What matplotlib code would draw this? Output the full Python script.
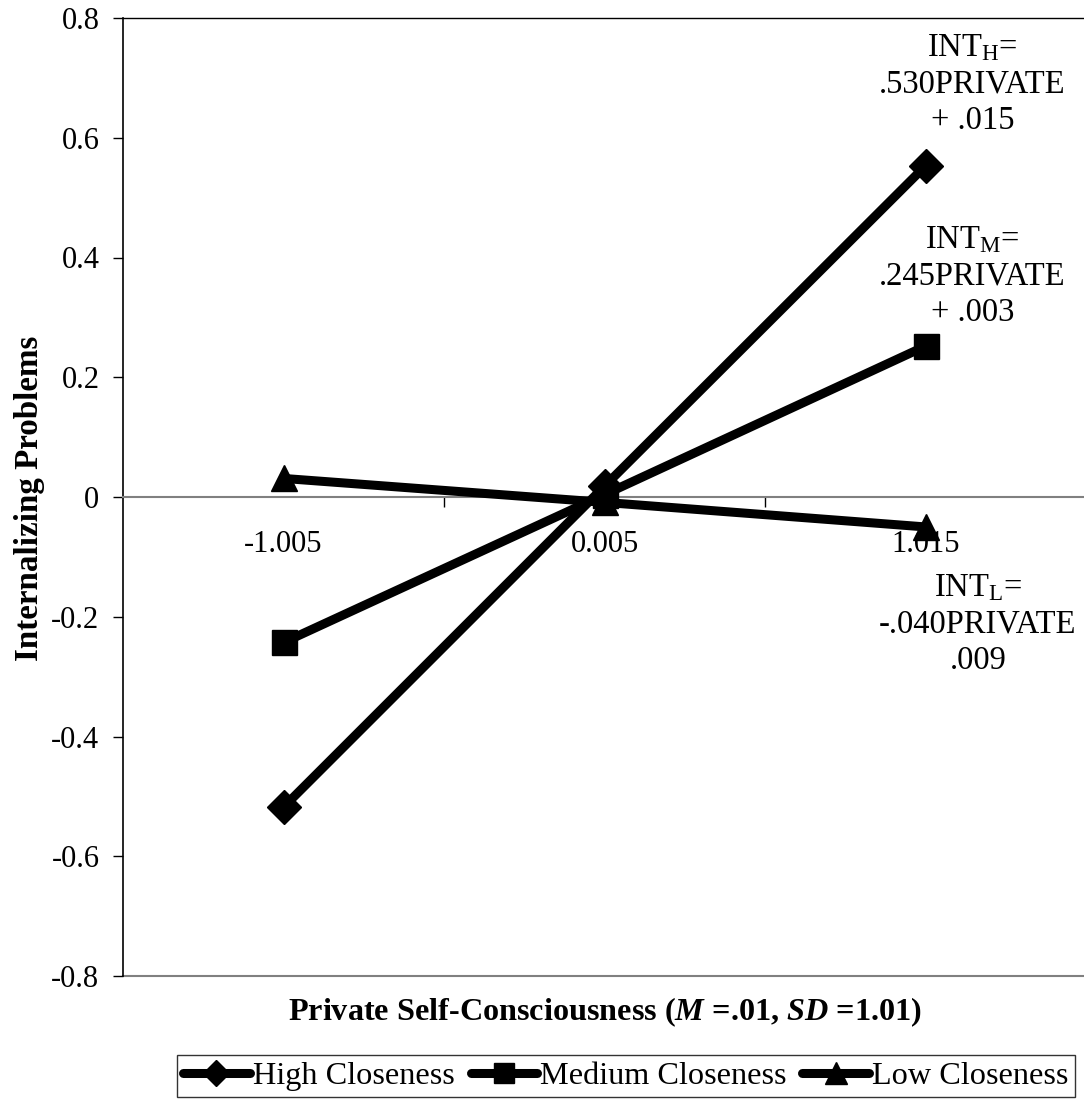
import matplotlib
matplotlib.use("Agg")
import matplotlib.pyplot as plt
from matplotlib.ticker import FixedLocator

plt.rcParams['font.family'] = ['Liberation Serif', 'DejaVu Serif']
plt.rcParams['mathtext.fontset'] = 'custom'
plt.rcParams['mathtext.rm'] = 'Liberation Serif'
plt.rcParams['mathtext.it'] = 'Liberation Serif:italic:bold'
plt.rcParams['mathtext.bf'] = 'Liberation Serif:bold'

categories = ["-1.005", "0.005", "1.015"]
high = [-0.518, 0.018, 0.553]
medium = [-0.243, 0.004, 0.252]
low = [0.031, -0.009, -0.050]
series_names = ["High Closeness", "Medium Closeness", "Low Closeness"]
yticks = [-0.8, -0.6, -0.4, -0.2, 0, 0.2, 0.4, 0.6, 0.8]
ytick_labels = ["-0.8", "-0.6", "-0.4", "-0.2", "0", "0.2", "0.4", "0.6", "0.8"]
eq_high = "INT$_\\mathrm{H}$=\n.530PRIVATE\n+ .015"
eq_med = "INT$_\\mathrm{M}$=\n.245PRIVATE\n+ .003"
eq_low = "INT$_\\mathrm{L}$=\n-.040PRIVATE\n.009"

W, H = 1084, 1101
fig = plt.figure(figsize=(W / 100, H / 100), dpi=100)
ax_left, ax_right, ax_top, ax_bottom = 123, 1086, 18, 976
ax = fig.add_axes([ax_left / W, 1 - ax_bottom / H, (ax_right - ax_left) / W, (ax_bottom - ax_top) / H])

x = list(range(len(categories)))
lw = 6.5
ax.plot(x, high, color='black', lw=lw, marker='D', ms=17, label=series_names[0], zorder=3,
        clip_on=False, solid_capstyle='round')
ax.plot(x, medium, color='black', lw=lw, marker='s', ms=18, label=series_names[1], zorder=3,
        clip_on=False, solid_capstyle='round')
ax.plot(x, low, color='black', lw=lw, marker='^', ms=19, label=series_names[2], zorder=3,
        clip_on=False, solid_capstyle='round')

ax.set_xlim(-0.5, len(categories) - 0.5)
ax.set_ylim(-0.8, 0.8)

ax.spines['right'].set_visible(False)
ax.spines['top'].set_color('black')
ax.spines['top'].set_linewidth(1.0)
ax.spines['left'].set_color('black')
ax.spines['left'].set_linewidth(1.2)
ax.spines['bottom'].set_position(('data', 0))
ax.spines['bottom'].set_color('#808080')
ax.spines['bottom'].set_linewidth(1.5)
ax.axhline(-0.8, color='#808080', lw=1.5, clip_on=False, zorder=1)

ax.set_yticks(yticks)
ax.set_yticklabels(ytick_labels)
ax.tick_params(axis='y', direction='out', length=7, width=1, labelsize=22, pad=10)

ax.set_xticks(x)
ax.set_xticklabels(categories)
ax.xaxis.set_minor_locator(FixedLocator([0.5, 1.5]))
ax.tick_params(axis='x', which='major', length=0, labelsize=22, pad=24)
ax.tick_params(axis='x', which='minor', direction='out', length=7, width=1, color='black')

ann_fs = 23.5
ax.text(2.147, 0.690, eq_high, ha='center', va='center', fontsize=ann_fs, linespacing=1.25)
ax.text(2.147, 0.369, eq_med, ha='center', va='center', fontsize=ann_fs, linespacing=1.25)
ax.text(2.163, -0.212, eq_low, ha='center', va='center', fontsize=ann_fs, linespacing=1.25)

fig.text(30 / W, 1 - 498 / H, "Internalizing Problems", rotation=90, ha='center', va='center',
         fontsize=23.8, fontweight='bold')
fig.text(((ax_left + ax_right) / 2) / W, 1 - 1012 / H, "Private Self-Consciousness ($M$ =.01, $SD$ =1.01)",
         ha='center', va='center', fontsize=23.2, fontweight='bold')

leg = fig.legend(loc='upper left', bbox_to_anchor=(177 / W, 1 - 1055 / H), ncol=3, fontsize=23.2,
                 frameon=True, fancybox=False, edgecolor='black', borderpad=0.2, handlelength=2.05,
                 handletextpad=0.1, columnspacing=0.5, borderaxespad=0, markerscale=0.8)
leg.get_frame().set_linewidth(1.0)

fig.savefig("out.png", dpi=100)
